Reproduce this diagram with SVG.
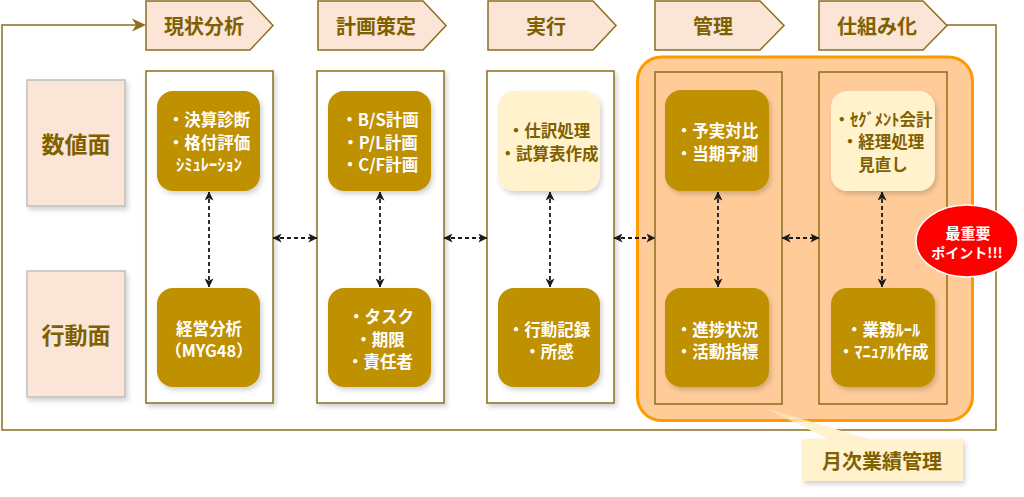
<svg xmlns="http://www.w3.org/2000/svg" width="1024" height="497" viewBox="0 0 1024 497">
<defs>
<style>
.chev{fill:#FBE5D6;stroke:#8C6E1E;stroke-width:1.5}
.col{fill:#FFFFFF;stroke:#8C6E1E;stroke-width:1.5}
.colo{fill:none;stroke:#8C6E1E;stroke-width:1.5}
.side{fill:#FBE5D6;stroke:#C0C0C0;stroke-width:1.5}
.dk{fill:#BF9000}
.lt{fill:#FFF2CC}
.t{font-family:"Noto Sans CJK JP","Noto Sans",sans-serif;font-weight:bold;text-anchor:middle;dominant-baseline:central}
.hd{font-size:20px;fill:#7F6000}
.sd{font-size:23px;fill:#7F6000}
.w{font-size:16.5px;fill:#FFFFFF}
.b{font-size:16.5px;fill:#7F6000}
.da{stroke:#1A1A1A;stroke-width:1.8;stroke-dasharray:4 3;fill:none;marker-start:url(#ah);marker-end:url(#ah)}
.loop{fill:none;stroke:#8C6E1E;stroke-width:1.5}
</style>
<marker id="ah" viewBox="0 0 10 10" refX="9.5" refY="5" markerWidth="9" markerHeight="9" markerUnits="userSpaceOnUse" orient="auto-start-reverse">
<path d="M0,0 L10,5 L0,10 L2.5,5 z" fill="#1A1A1A"/>
</marker>
<filter id="sh" x="-20%" y="-20%" width="140%" height="140%">
<feDropShadow dx="2" dy="3" stdDeviation="2.5" flood-color="#000" flood-opacity="0.18"/>
</filter>
<linearGradient id="wg" x1="0" y1="0" x2="1" y2="1">
<stop offset="0" stop-color="#FFF2CC" stop-opacity="0.3"/>
<stop offset="0.6" stop-color="#FFF2CC" stop-opacity="1"/>
</linearGradient>
</defs>

<g id="connectors">
<polyline class="loop" points="947,25 996,25 996,430 2,430 2,25 140,25"/>
<path d="M146,25 L132,18.5 L136,25 L132,31.5 Z" fill="#8C6E1E"/>
</g>

<g id="chevrons">
<g id="h1"><polygon class="chev" points="146,1 250,1 273,25.5 250,50 146,50"/><text class="t hd" x="204" y="25">現状分析</text></g>
<g id="h2"><polygon class="chev" points="318,1 423,1 446,25.5 423,50 318,50"/><text class="t hd" x="376" y="25">計画策定</text></g>
<g id="h3"><polygon class="chev" points="488,1 593,1 616,25.5 593,50 488,50"/><text class="t hd" x="546" y="25">実行</text></g>
<g id="h4"><polygon class="chev" points="655,1 760,1 784,25.5 760,50 655,50"/><text class="t hd" x="713" y="25">管理</text></g>
<g id="h5"><polygon class="chev" points="819,1 923,1 947,25.5 923,50 819,50"/><text class="t hd" x="877" y="25">仕組み化</text></g>
</g>

<g id="side-labels">
<g id="s1"><rect class="side" x="27" y="80" width="98" height="126" filter="url(#sh)"/><text class="t sd" x="76" y="143">数値面</text></g>
<g id="s2"><rect class="side" x="27" y="271" width="98" height="126" filter="url(#sh)"/><text class="t sd" x="76" y="334">行動面</text></g>
</g>

<g id="monthly-area">
<rect x="637.5" y="57" width="335" height="363.5" rx="24" fill="#FFCC99" stroke="#FF9900" stroke-width="3"/>
</g>

<g id="columns">
<rect class="col" x="146" y="71" width="127" height="332" filter="url(#sh)"/>
<rect class="col" x="317" y="71" width="127" height="332" filter="url(#sh)"/>
<rect class="col" x="487" y="71" width="127" height="332" filter="url(#sh)"/>
<rect class="colo" x="655" y="72" width="127" height="332"/>
<rect class="colo" x="819" y="72" width="128" height="332"/>
</g>

<g id="col-arrows">
<line class="da" x1="273" y1="238" x2="317" y2="238"/>
<line class="da" x1="444" y1="238" x2="487" y2="238"/>
<line class="da" x1="614" y1="238" x2="655" y2="238"/>
<line class="da" x1="782" y1="238" x2="819" y2="238"/>
<line class="da" x1="209" y1="192" x2="209" y2="287"/>
<line class="da" x1="380" y1="192" x2="380" y2="287"/>
<line class="da" x1="550" y1="192" x2="550" y2="287"/>
<line class="da" x1="718" y1="192" x2="718" y2="287"/>
<line class="da" x1="882" y1="192" x2="882" y2="287"/>
</g>

<g id="n1a"><rect class="dk" x="157" y="91" width="103" height="100" rx="16" filter="url(#sh)"/>
<text class="t w" x="209" y="119">・決算診断</text><text class="t w" x="209" y="142">・格付評価</text><text class="t w" x="209" y="164">ｼﾐｭﾚｰｼｮﾝ</text></g>
<g id="n1b"><rect class="dk" x="157" y="288" width="103" height="99" rx="16" filter="url(#sh)"/>
<text class="t w" x="209" y="328">経営分析</text><text class="t w" x="209" y="350">（MYG48）</text></g>

<g id="n2a"><rect class="dk" x="328" y="91" width="103" height="100" rx="16" filter="url(#sh)"/>
<text class="t w" x="380" y="119">・B/S計画</text><text class="t w" x="380" y="142">・P/L計画</text><text class="t w" x="380" y="164">・C/F計画</text></g>
<g id="n2b"><rect class="dk" x="328" y="288" width="103" height="99" rx="16" filter="url(#sh)"/>
<text class="t w" x="381" y="316">・タスク</text><text class="t w" x="380" y="339">・期限</text><text class="t w" x="380" y="361">・責任者</text></g>

<g id="n3a"><rect class="lt" x="498" y="91" width="102" height="100" rx="16" filter="url(#sh)"/>
<text class="t b" x="549" y="130">・仕訳処理</text><text class="t b" x="549" y="153">・試算表作成</text></g>
<g id="n3b"><rect class="dk" x="498" y="288" width="102" height="99" rx="16" filter="url(#sh)"/>
<text class="t w" x="549" y="329">・行動記録</text><text class="t w" x="549" y="351">・所感</text></g>

<g id="n4a"><rect class="dk" x="665" y="90" width="104" height="101" rx="16" filter="url(#sh)"/>
<text class="t w" x="717" y="130">・予実対比</text><text class="t w" x="717" y="153">・当期予測</text></g>
<g id="n4b"><rect class="dk" x="665" y="288" width="104" height="99" rx="16" filter="url(#sh)"/>
<text class="t w" x="717" y="329">・進捗状況</text><text class="t w" x="717" y="351">・活動指標</text></g>

<g id="n5a"><rect class="lt" x="831" y="91" width="104" height="100" rx="16" filter="url(#sh)"/>
<text class="t b" x="883" y="119">・ｾｸﾞﾒﾝﾄ会計</text><text class="t b" x="883" y="141">・経理処理</text><text class="t b" x="883" y="164">見直し</text></g>
<g id="n5b"><rect class="dk" x="831" y="288" width="104" height="99" rx="16" filter="url(#sh)"/>
<text class="t w" x="883" y="329">・業務ﾙｰﾙ</text><text class="t w" x="883" y="351">・ﾏﾆｭｱﾙ作成</text></g>

<g id="callout-monthly">
<polygon points="765,408 830,440 872,440" fill="url(#wg)"/>
<rect x="802" y="439" width="161" height="42" fill="#FFF2CC" filter="url(#sh)"/>
<text class="t hd" x="882" y="460">月次業績管理</text>
</g>

<g id="callout-point">
<ellipse cx="967" cy="241" rx="51" ry="36" fill="#FF0000" stroke="#FFFFFF" stroke-width="1.5"/>
<text class="t" x="968" y="232" font-size="15" fill="#FFFFFF">最重要</text>
<text class="t" x="967" y="252" font-size="14" fill="#FFFFFF">ポイント!!!</text>
</g>
</svg>
